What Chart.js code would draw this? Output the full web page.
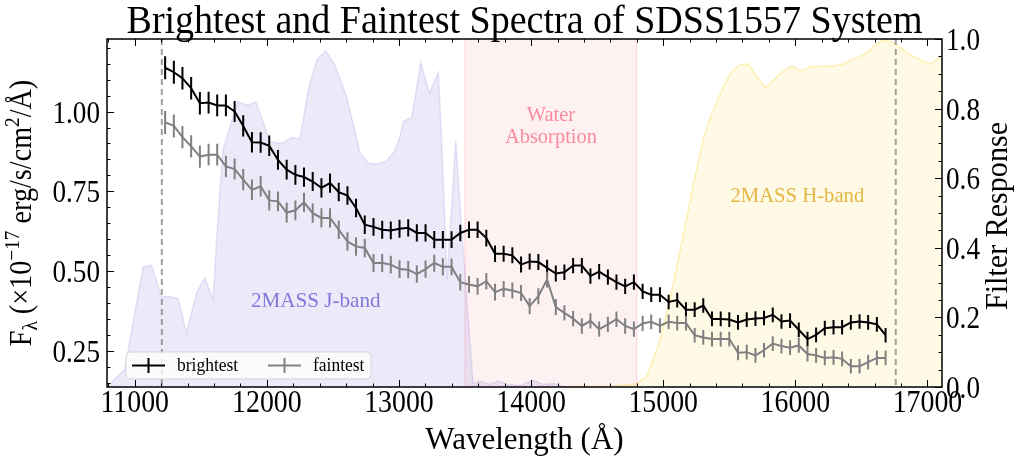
<!DOCTYPE html>
<html>
<head>
<meta charset="utf-8">
<script src="https://cdn.jsdelivr.net/npm/chart.js@4.4.1/dist/chart.umd.min.js"></script>
<style>
  html, body { margin: 0; padding: 0; background: #ffffff; }
  #wrap { width: 1017px; height: 459px; }
</style>
</head>
<body>
<div id="wrap"><canvas id="c" width="1017" height="459"></canvas></div>
<script>
// ---- spectra (flux in 1e-17 erg/s/cm^2/A) ----
const wavelength = [
  11230, 11296, 11361, 11427, 11493, 11559, 11624, 11690, 11756, 11821,
  11887, 11953, 12018, 12084, 12150, 12216, 12281, 12347, 12413, 12478,
  12544, 12610, 12675, 12741, 12807, 12873, 12938, 13004, 13070, 13135,
  13201, 13267, 13332, 13398, 13464, 13530, 13595, 13661, 13727, 13792,
  13858, 13924, 13989, 14055, 14121, 14187, 14252, 14318, 14384, 14449,
  14515, 14581, 14646, 14712, 14778, 14844, 14909, 14975, 15041, 15106,
  15172, 15238, 15303, 15369, 15435, 15500, 15566, 15632, 15698, 15763,
  15829, 15895, 15960, 16026, 16092, 16157, 16223, 16289, 16354, 16420,
  16486, 16551, 16617, 16683
];
const brightest = [
  1.137, 1.123, 1.104, 1.073, 1.026, 1.028, 1.019, 1.019, 1.000, 0.955,
  0.904, 0.903, 0.893, 0.849, 0.818, 0.802, 0.795, 0.781, 0.761, 0.776,
  0.748, 0.737, 0.698, 0.646, 0.639, 0.630, 0.628, 0.633, 0.636, 0.620,
  0.620, 0.599, 0.599, 0.599, 0.620, 0.630, 0.630, 0.604, 0.555, 0.555,
  0.550, 0.521, 0.531, 0.529, 0.511, 0.493, 0.497, 0.518, 0.518, 0.485,
  0.499, 0.482, 0.466, 0.453, 0.466, 0.437, 0.427, 0.427, 0.404, 0.410,
  0.380, 0.380, 0.393, 0.351, 0.351, 0.349, 0.340, 0.349, 0.352, 0.354,
  0.364, 0.343, 0.346, 0.317, 0.288, 0.301, 0.322, 0.325, 0.325, 0.340,
  0.343, 0.340, 0.334, 0.300
];
const brightestErr = [
  0.036, 0.036, 0.035, 0.035, 0.035, 0.034, 0.034, 0.034, 0.033, 0.033,
  0.032, 0.032, 0.032, 0.031, 0.031, 0.031, 0.030, 0.030, 0.030, 0.030,
  0.029, 0.029, 0.029, 0.029, 0.028, 0.028, 0.028, 0.028, 0.027, 0.027,
  0.027, 0.027, 0.027, 0.026, 0.026, 0.026, 0.026, 0.026, 0.026, 0.025,
  0.025, 0.025, 0.025, 0.025, 0.025, 0.025, 0.024, 0.024, 0.024, 0.024,
  0.024, 0.024, 0.024, 0.024, 0.024, 0.024, 0.023, 0.023, 0.023, 0.023,
  0.023, 0.023, 0.023, 0.023, 0.023, 0.023, 0.023, 0.023, 0.023, 0.023,
  0.023, 0.023, 0.023, 0.023, 0.023, 0.023, 0.023, 0.023, 0.023, 0.023,
  0.023, 0.023, 0.023, 0.023
];
const faintest = [
  0.966, 0.955, 0.920, 0.891, 0.859, 0.865, 0.865, 0.828, 0.820, 0.787,
  0.755, 0.766, 0.722, 0.719, 0.684, 0.691, 0.716, 0.682, 0.667, 0.667,
  0.630, 0.593, 0.578, 0.573, 0.526, 0.526, 0.521, 0.507, 0.505, 0.491,
  0.507, 0.526, 0.514, 0.514, 0.466, 0.459, 0.453, 0.469, 0.435, 0.445,
  0.440, 0.432, 0.391, 0.422, 0.474, 0.388, 0.370, 0.352, 0.329, 0.345,
  0.319, 0.334, 0.350, 0.329, 0.319, 0.337, 0.342, 0.330, 0.342, 0.338,
  0.338, 0.300, 0.293, 0.288, 0.288, 0.288, 0.245, 0.247, 0.237, 0.253,
  0.274, 0.266, 0.261, 0.268, 0.241, 0.237, 0.229, 0.231, 0.226, 0.203,
  0.203, 0.216, 0.229, 0.229
];
const faintestErr = brightestErr.slice();

// ---- 2MASS filter transmission curves ----
const jBandWave = [
  10786, 10924, 11063, 11126, 11202, 11265, 11328, 11392, 11467, 11530,
  11593, 11619, 11667, 11780, 11856, 11917, 12023, 12111, 12187, 12250,
  12313, 12377, 12447, 12515, 12604, 12705, 12767, 12831, 12902, 12970,
  13008, 13033, 13096, 13164, 13230, 13298, 13326, 13364, 13430, 13475,
  13561, 13614, 13689, 13750, 13816, 13917, 14015, 14091, 14167, 14258
];
const jBandResp = [
  0.000, 0.050, 0.345, 0.350, 0.260, 0.260, 0.254, 0.155, 0.270, 0.313,
  0.250, 0.420, 0.680, 0.820, 0.810, 0.820, 0.705, 0.700, 0.717, 0.713,
  0.854, 0.940, 0.966, 0.925, 0.834, 0.673, 0.643, 0.641, 0.648, 0.680,
  0.720, 0.763, 0.775, 0.933, 0.846, 0.904, 0.680, 0.310, 0.707, 0.450,
  0.010, 0.017, 0.007, 0.017, 0.007, 0.004, 0.020, 0.007, 0.010, 0.000
];
const hBandWave = [
  14220, 14621, 14801, 14877, 14977, 15078, 15154, 15230, 15305, 15369,
  15445, 15513, 15583, 15646, 15710, 15773, 15836, 15911, 15975, 16038,
  16114, 16189, 16290, 16366, 16417, 16492, 16568, 16619, 16682, 16745,
  16820, 16896, 17023, 17111
];
const hBandResp = [
  0.000, 0.002, 0.010, 0.031, 0.136, 0.300, 0.440, 0.586, 0.715, 0.787,
  0.854, 0.904, 0.927, 0.928, 0.892, 0.860, 0.882, 0.908, 0.923, 0.908,
  0.920, 0.922, 0.923, 0.928, 0.940, 0.949, 0.968, 0.989, 0.997, 0.989,
  0.968, 0.949, 0.927, 0.954
];

const waterBand = [13500, 14800];
const edgeLines = [11205, 16760];

const xTicks = [11000, 12000, 13000, 14000, 15000, 16000, 17000];
const fluxTicks = [0.25, 0.50, 0.75, 1.00];
const respTicks = [0.0, 0.2, 0.4, 0.6, 0.8, 1.0];

const FONT = '"Liberation Serif", "Times New Roman", serif';

function pairs(xs, ys) { return xs.map((x, i) => ({ x: x, y: ys[i] })); }

function drawText(ctx, s, x, y, o) {
  ctx.save();
  ctx.translate(x, y);
  if (o.rot) ctx.rotate(o.rot);
  ctx.scale(o.sx || 0.85, 1);
  ctx.font = (o.size || 20) + 'px ' + FONT;
  ctx.fillStyle = o.color || '#000';
  ctx.textAlign = o.align || 'center';
  ctx.textBaseline = o.base || 'alphabetic';
  ctx.fillText(s, 0, 0);
  ctx.restore();
}

// rich text (sub/superscripts) centred at (cx, cy), optionally rotated
function drawRich(ctx, parts, cx, cy, rot, sx, color) {
  ctx.save();
  ctx.translate(cx, cy);
  if (rot) ctx.rotate(rot);
  ctx.scale(sx, 1);
  ctx.fillStyle = color || '#000';
  ctx.textBaseline = 'alphabetic';
  ctx.textAlign = 'left';
  let total = 0;
  parts.forEach(p => { ctx.font = p.size + 'px ' + FONT; p.w = ctx.measureText(p.t).width; total += p.w; });
  let x = -total / 2;
  parts.forEach(p => { ctx.font = p.size + 'px ' + FONT; ctx.fillText(p.t, x, p.dy || 0); x += p.w; });
  ctx.restore();
}

const decorPlugin = {
  id: 'decor',
  beforeDatasetsDraw(chart) {
    const { ctx, chartArea: a, scales: { x } } = chart;
    const x0 = x.getPixelForValue(waterBand[0]);
    const x1 = x.getPixelForValue(waterBand[1]);
    ctx.save();
    ctx.fillStyle = 'rgba(252, 200, 205, 0.26)';
    ctx.fillRect(x0, a.top, x1 - x0, a.bottom - a.top);
    ctx.strokeStyle = 'rgba(250, 175, 190, 0.45)';
    ctx.lineWidth = 1.2;
    ctx.beginPath();
    ctx.moveTo(x0, a.top); ctx.lineTo(x0, a.bottom);
    ctx.moveTo(x1, a.top); ctx.lineTo(x1, a.bottom);
    ctx.stroke();
    ctx.restore();
  },
  afterDatasetsDraw(chart) {
    const { ctx, chartArea: a, scales: { x, y } } = chart;
    // error bars
    const series = [
      { idx: 0, vals: brightest, err: brightestErr, color: '#000000' },
      { idx: 1, vals: faintest, err: faintestErr, color: '#808080' }
    ];
    ctx.save();
    series.forEach(s => {
      const meta = chart.getDatasetMeta(s.idx);
      ctx.strokeStyle = s.color;
      ctx.lineWidth = 2;
      ctx.beginPath();
      meta.data.forEach((pt, i) => {
        ctx.moveTo(pt.x, y.getPixelForValue(s.vals[i] + s.err[i]));
        ctx.lineTo(pt.x, y.getPixelForValue(s.vals[i] - s.err[i]));
      });
      ctx.stroke();
    });
    // dashed edge markers
    ctx.strokeStyle = 'rgba(128,128,128,0.75)';
    ctx.lineWidth = 2;
    ctx.setLineDash([6, 4]);
    edgeLines.forEach(w => {
      const px = x.getPixelForValue(w);
      ctx.beginPath(); ctx.moveTo(px, a.top); ctx.lineTo(px, a.bottom); ctx.stroke();
    });
    ctx.setLineDash([]);
    ctx.restore();

    // in-plot annotations
    const xm = x.getPixelForValue((waterBand[0] + waterBand[1]) / 2);
    const pink = 'rgba(250, 120, 140, 0.85)';
    drawText(ctx, 'Water', xm, 121, { size: 22, sx: 0.93, color: pink });
    drawText(ctx, 'Absorption', xm, 143, { size: 22, sx: 0.93, color: pink });
    drawText(ctx, '2MASS J-band', x.getPixelForValue(12370), 307, { size: 22, sx: 0.96, color: 'rgba(110, 100, 215, 0.85)' });
    drawText(ctx, '2MASS H-band', x.getPixelForValue(16015), 202, { size: 22, sx: 0.94, color: 'rgba(225, 175, 50, 0.9)' });

    // legend
    ctx.save();
    const lx = 126, ly = 352, lw = 245, lh = 27;
    ctx.fillStyle = 'rgba(255,255,255,0.8)';
    ctx.strokeStyle = 'rgba(210,210,210,0.9)';
    ctx.lineWidth = 1;
    ctx.beginPath();
    ctx.roundRect(lx, ly, lw, lh, 4);
    ctx.fill(); ctx.stroke();
    const legendItems = [
      { label: 'brightest', color: '#000000', x: 132 },
      { label: 'faintest', color: '#808080', x: 268 }
    ];
    legendItems.forEach(it => {
      const cy = ly + lh / 2;
      ctx.strokeStyle = it.color;
      ctx.lineWidth = 2;
      ctx.beginPath();
      ctx.moveTo(it.x, cy); ctx.lineTo(it.x + 33, cy);
      ctx.moveTo(it.x + 16.5, cy - 7.5); ctx.lineTo(it.x + 16.5, cy + 7.5);
      ctx.stroke();
      drawText(ctx, it.label, it.x + 45, cy + 5, { size: 19, sx: 0.92, align: 'left' });
    });
    ctx.restore();
  },
  afterDraw(chart) {
    const { ctx, chartArea: a, scales: { x, y, y2 } } = chart;
    ctx.save();
    ctx.strokeStyle = '#000';
    ctx.lineWidth = 1;
    const tick = (x0, y0, x1, y1) => { ctx.beginPath(); ctx.moveTo(x0, y0); ctx.lineTo(x1, y1); ctx.stroke(); };
    const MAJ = 7, MIN = 3.5;
    // x ticks (bottom and top, pointing inward)
    for (let w = 10800; w <= 17100; w += 200) {
      const px = Math.round(x.getPixelForValue(w)) + 0.5;
      const len = (w % 1000 === 0) ? MAJ : MIN;
      tick(px, a.bottom, px, a.bottom - len);
      tick(px, a.top, px, a.top + len);
    }
    // left flux ticks
    for (let v = 0.15; v <= 1.2301; v += 0.05) {
      const py = Math.round(y.getPixelForValue(v)) + 0.5;
      const major = Math.abs(v / 0.25 - Math.round(v / 0.25)) < 1e-6;
      tick(a.left, py, a.left + (major ? MAJ : MIN), py);
    }
    // right response ticks
    for (let v = 0; v <= 1.0001; v += 0.05) {
      const py = Math.round(y2.getPixelForValue(v)) + 0.5;
      const major = Math.abs(v / 0.2 - Math.round(v / 0.2)) < 1e-6;
      tick(a.right, py, a.right - (major ? MAJ : MIN), py);
    }
    // frame
    ctx.lineWidth = 1.5;
    ctx.strokeRect(a.left, a.top, a.right - a.left, a.bottom - a.top);
    ctx.restore();

    // tick labels
    xTicks.forEach(w => drawText(ctx, String(w), x.getPixelForValue(w), 412, { size: 32, sx: 0.87 }));
    fluxTicks.forEach(v => drawText(ctx, v.toFixed(2), a.left - 7, y.getPixelForValue(v) + 11, { size: 32, sx: 0.85, align: 'right' }));
    respTicks.forEach(v => drawText(ctx, v.toFixed(1), a.right + 4, y2.getPixelForValue(v) + 11, { size: 32, sx: 0.85, align: 'left' }));

    // titles
    drawText(ctx, 'Brightest and Faintest Spectra of SDSS1557 System', (a.left + a.right) / 2, 33, { size: 40, sx: 0.95 });
    drawText(ctx, 'Wavelength (\u00C5)', (a.left + a.right) / 2, 449, { size: 32, sx: 0.97 });
    const S = 32, s = 22;
    drawRich(ctx, [
      { t: 'F', size: S },
      { t: '\u03BB', size: s, dy: 6 },
      { t: ' (\u00D710', size: S },
      { t: '\u221217', size: s, dy: -12 },
      { t: ' erg/s/cm', size: S },
      { t: '2', size: s, dy: -12 },
      { t: '/\u00C5)', size: S }
    ], 31, (a.top + a.bottom) / 2, -Math.PI / 2, 0.88);
    drawText(ctx, 'Filter Response', 1007, (a.top + a.bottom) / 2 + 3, { size: 32, sx: 0.94, rot: -Math.PI / 2 });
  }
};

const ctx = document.getElementById('c').getContext('2d');
new Chart(ctx, {
  type: 'line',
  data: {
    datasets: [
      {
        label: 'brightest',
        data: pairs(wavelength, brightest),
        yAxisID: 'y',
        borderColor: '#000000',
        borderWidth: 2,
        pointRadius: 0,
        tension: 0,
        fill: false,
        order: 1
      },
      {
        label: 'faintest',
        data: pairs(wavelength, faintest),
        yAxisID: 'y',
        borderColor: '#808080',
        borderWidth: 2,
        pointRadius: 0,
        tension: 0,
        fill: false,
        order: 2
      },
      {
        label: '2MASS J',
        data: pairs(jBandWave, jBandResp),
        yAxisID: 'y2',
        borderColor: 'rgba(106, 90, 205, 0.15)',
        backgroundColor: 'rgba(106, 90, 205, 0.13)',
        borderWidth: 1.5,
        pointRadius: 0,
        tension: 0,
        fill: 'origin',
        order: 10
      },
      {
        label: '2MASS H',
        data: pairs(hBandWave, hBandResp),
        yAxisID: 'y2',
        borderColor: 'rgba(253, 215, 60, 0.35)',
        backgroundColor: 'rgba(253, 215, 60, 0.13)',
        borderWidth: 1.5,
        pointRadius: 0,
        tension: 0,
        fill: 'origin',
        order: 11
      }
    ]
  },
  options: {
    responsive: false,
    animation: false,
    devicePixelRatio: 1,
    layout: { padding: { left: 107, right: 75, top: 39, bottom: 72 } },
    plugins: { legend: { display: false }, tooltip: { enabled: false }, filler: { propagate: false } },
    scales: {
      x: { type: 'linear', min: 10790, max: 17110, display: false },
      y: { type: 'linear', min: 0.138, max: 1.227, display: false },
      y2: { type: 'linear', position: 'right', min: 0, max: 1, display: false }
    }
  },
  plugins: [decorPlugin]
});
</script>
</body>
</html>
